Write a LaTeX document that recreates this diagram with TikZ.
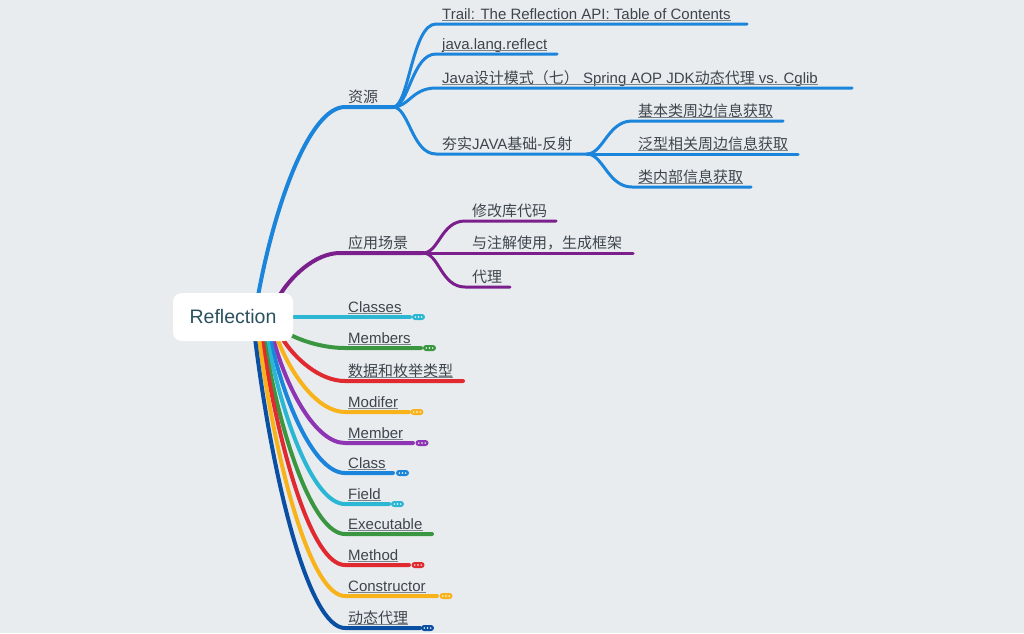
\documentclass[tikz,border=0pt]{standalone}
\usepackage{fontspec}
\setmainfont{Liberation Sans}
\newfontfamily\cjk{Noto Sans CJK SC}
\usetikzlibrary{calc}
\pgfdeclarelayer{back}
\pgfdeclarelayer{lines}
\pgfsetlayers{back,lines,main}
\definecolor{bgc}{HTML}{E9ECEF}
\definecolor{cRes}{HTML}{1B85DB}
\definecolor{cApp}{HTML}{7A1F8C}
\definecolor{cCyan}{HTML}{2BB7D3}
\definecolor{cGreen}{HTML}{3A9640}
\definecolor{cRed}{HTML}{E02A2F}
\definecolor{cOrange}{HTML}{F8B21A}
\definecolor{cPurple}{HTML}{8D35B3}
\definecolor{cNavy}{HTML}{0B4FA3}
\definecolor{txt}{HTML}{3D454D}
\definecolor{ulc}{HTML}{7A828A}
\definecolor{rootTxt}{HTML}{2A5160}
\begin{document}
\begin{tikzpicture}[x=1pt,y=-1pt,
  lbl/.style={inner sep=0pt, anchor=base west, font=\fontsize{15}{18}\selectfont, text=txt},
  rootbox/.style={fill=white, rounded corners=9pt, minimum width=120pt, minimum height=48pt, inner sep=0pt, font=\fontsize{19.5}{23}\selectfont, text=rootTxt},
  br/.style={line width=4pt, line cap=round, draw=#1},
  subbr/.style={line width=3pt, line cap=round, draw=#1},
  ul/.style={draw=ulc, line width=0.8pt},
  pill/.style={fill=#1, rounded corners=3pt, minimum width=13pt, minimum height=6pt, inner sep=0pt,
    path picture={\foreach \d in {-3.2,0,3.2} \fill[white] ([xshift=\d pt]path picture bounding box.center) circle (0.8pt);}}
]
\useasboundingbox (0,0) rectangle (1024,633);
\begin{pgfonlayer}{back}
\fill[bgc] (0,0) rectangle (1024,633);
\end{pgfonlayer}

% root
\node[rootbox] (root) at (233,317) {Reflection};

% coordinates
\coordinate (sRes) at (258,296);
\coordinate (eRes) at (345,107);
\coordinate (jRes) at (393,107);
\coordinate (sApp) at (278,298);
\coordinate (eApp) at (340,253);
\coordinate (jApp) at (423,253);
\coordinate (jHang) at (587,154);

% labels - upper
\node[lbl, font=\fontsize{15}{18}\cjk] (tRes) at (348,102.3) {资源};
\node[lbl] (tTrail) at (442,19.3) {Trail: The Reflection API: Table of Contents};
\node[lbl] (tJlr) at (442,49.3) {java.lang.reflect};
\node[lbl] (tJds) at (442,83.3) {Java{\cjk 设计模式（七）} Spring AOP JDK{\cjk 动态代理} vs. Cglib};
\node[lbl] (tHang) at (442,149.3) {{\cjk 夯实}JAVA{\cjk 基础}-{\cjk 反射}};
\node[lbl, font=\fontsize{15}{18}\cjk] (tJb) at (638,116.3) {基本类周边信息获取};
\node[lbl, font=\fontsize{15}{18}\cjk] (tFx) at (638,149.3) {泛型相关周边信息获取};
\node[lbl, font=\fontsize{15}{18}\cjk] (tLnb) at (638,182.3) {类内部信息获取};
\node[lbl, font=\fontsize{15}{18}\cjk] (tApp) at (348,248.3) {应用场景};
\node[lbl, font=\fontsize{15}{18}\cjk] (tXg) at (472,216.3) {修改库代码};
\node[lbl, font=\fontsize{15}{18}\cjk] (tZj) at (472,248.3) {与注解使用，生成框架};
\node[lbl, font=\fontsize{15}{18}\cjk] (tDl) at (472,282.3) {代理};

% labels - lower
\node[lbl] (tClasses) at (348,312.3) {Classes};
\node[lbl] (tMembers) at (348,343.3) {Members};
\node[lbl, font=\fontsize{15}{18}\cjk] (tSj) at (348,376.3) {数据和枚举类型};
\node[lbl] (tModifer) at (348,407.3) {Modifer};
\node[lbl] (tMember) at (348,438.3) {Member};
\node[lbl] (tClass) at (348,468.3) {Class};
\node[lbl] (tField) at (348,499.3) {Field};
\node[lbl] (tExec) at (348,529.3) {Executable};
\node[lbl] (tMethod) at (348,560.3) {Method};
\node[lbl] (tCons) at (348,591.3) {Constructor};
\node[lbl, font=\fontsize{15}{18}\cjk] (tDt) at (348,623.3) {动态代理};

% underlines
\foreach \n in {tTrail,tJlr,tJds,tJb,tFx,tLnb,tClasses,tMembers,tSj,tModifer,tMember,tClass,tField,tExec,tMethod,tCons,tDt}
  \draw[ul] ([yshift=-1.2pt]\n.base west) -- ([yshift=-1.2pt]\n.base east);

% end coordinates of lines
\coordinate (lTrail) at (747,24);
\coordinate (lJlr) at (557,54);
\coordinate (lJds) at (852,88);
\coordinate (eTrail) at (436,24);
\coordinate (eJlr) at (436,54);
\coordinate (eJds) at (436,88);
\coordinate (eHang) at (436,154);
\coordinate (eJb) at (632,121);
\coordinate (eFx) at (632,154);
\coordinate (eLnb) at (632,187);
\coordinate (lJb) at (783,121);
\coordinate (lFx) at (798,154);
\coordinate (lLnb) at (751,187);
\coordinate (eXg) at (465,221);
\coordinate (eZj) at (465,253);
\coordinate (eDl) at (465,287);
\coordinate (lXg) at (556,221);
\coordinate (lZj) at (633,253);
\coordinate (lDl) at (510,287);

\coordinate (sMembers) at (287,333); \coordinate (eMembers) at (345,348); \coordinate (lMembers) at (421,348);
\coordinate (sSj) at (282,338); \coordinate (eSj) at (345,381); \coordinate (lSj) at (463,381);
\coordinate (sModifer) at (277,338); \coordinate (eModifer) at (345,412); \coordinate (lModifer) at (409,412);
\coordinate (sMember) at (273,338); \coordinate (eMember) at (345,443); \coordinate (lMember) at (413,443);
\coordinate (sClass) at (270,338); \coordinate (eClass) at (345,473); \coordinate (lClass) at (393,473);
\coordinate (sField) at (267,338); \coordinate (eField) at (345,504); \coordinate (lField) at (389,504);
\coordinate (sExec) at (264,338); \coordinate (eExec) at (345,534); \coordinate (lExec) at (432,534);
\coordinate (sMethod) at (262,338); \coordinate (eMethod) at (345,565); \coordinate (lMethod) at (409,565);
\coordinate (sCons) at (259,338); \coordinate (eCons) at (345,596); \coordinate (lCons) at (437,596);
\coordinate (sDt) at (255,338); \coordinate (eDt) at (345,628); \coordinate (lDt) at (420,628);
\coordinate (lClasses) at (410,317);

\begin{pgfonlayer}{lines}
% resources
\draw[br=cRes] (sRes) .. controls +(17,-93) and +(-35,0) .. (eRes) -- (jRes);
\draw[subbr=cRes] (jRes) .. controls +(16,0) and +(-24,0) .. (eTrail) -- (lTrail);
\draw[subbr=cRes] (jRes) .. controls +(16,0) and +(-24,0) .. (eJlr) -- (lJlr);
\draw[subbr=cRes] (jRes) .. controls +(16,0) and +(-24,0) .. (eJds) -- (lJds);
\draw[subbr=cRes] (jRes) .. controls +(16,0) and +(-24,0) .. (eHang) -- (jHang);
\draw[subbr=cRes] (jHang) .. controls +(16,0) and +(-24,0) .. (eJb) -- (lJb);
\draw[subbr=cRes] (jHang) -- (lFx);
\draw[subbr=cRes] (jHang) .. controls +(16,0) and +(-24,0) .. (eLnb) -- (lLnb);
% application
\draw[br=cApp] (sApp) .. controls +(12,-21) and +(-25,0) .. (eApp) -- (jApp);
\draw[subbr=cApp] (jApp) .. controls +(16,0) and +(-24,0) .. (eXg) -- (lXg);
\draw[subbr=cApp] (jApp) -- (lZj);
\draw[subbr=cApp] (jApp) .. controls +(16,0) and +(-24,0) .. (eDl) -- (lDl);
% lower
\draw[br=cCyan] (root.east) -- (lClasses);
\draw[br=cGreen] (sMembers) .. controls +(12,7) and +(-23,0) .. (eMembers) -- (lMembers);
\draw[br=cRed] (sSj) .. controls +(13,21) and +(-25,0) .. (eSj) -- (lSj);
\draw[br=cOrange] (sModifer) .. controls +(14,37) and +(-27,0) .. (eModifer) -- (lModifer);
\draw[br=cPurple] (sMember) .. controls +(14,52) and +(-29,0) .. (eMember) -- (lMember);
\draw[br=cRes] (sClass) .. controls +(15,67) and +(-30,0) .. (eClass) -- (lClass);
\draw[br=cCyan] (sField) .. controls +(16,83) and +(-31,0) .. (eField) -- (lField);
\draw[br=cGreen] (sExec) .. controls +(16,98) and +(-32,0) .. (eExec) -- (lExec);
\draw[br=cRed] (sMethod) .. controls +(17,113) and +(-33,0) .. (eMethod) -- (lMethod);
\draw[br=cOrange] (sCons) .. controls +(17,129) and +(-34,0) .. (eCons) -- (lCons);
\draw[br=cNavy] (sDt) .. controls +(18,145) and +(-36,0) .. (eDt) -- (lDt);
\end{pgfonlayer}

% collapse pills
\node[pill=cCyan] (pClasses) at (418.5,317) {};
\node[pill=cGreen] (pMembers) at (429.5,348) {};
\node[pill=cOrange] (pModifer) at (417,412) {};
\node[pill=cPurple] (pMember) at (422,443) {};
\node[pill=cRes] (pClass) at (402.5,473) {};
\node[pill=cCyan] (pField) at (397.5,504) {};
\node[pill=cRed] (pMethod) at (418,565) {};
\node[pill=cOrange] (pCons) at (446,596) {};
\node[pill=cNavy] (pDt) at (427.5,628) {};
\end{tikzpicture}
\end{document}
